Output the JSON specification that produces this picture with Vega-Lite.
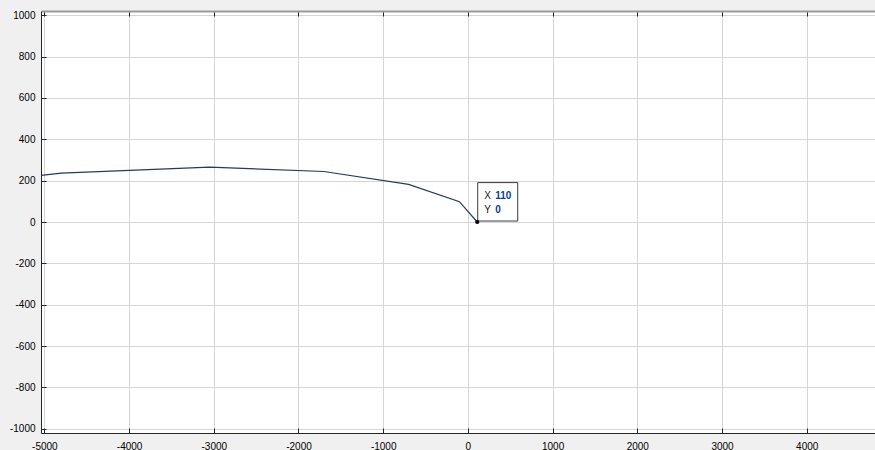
{
  "$schema": "https://vega.github.io/schema/vega-lite/v6.json",
  "width": 835,
  "height": 422,
  "autosize": {"type": "none"},
  "padding": {"left": 41, "top": 11, "right": 0, "bottom": 17},
  "background": "#f0f0f0",
  "config": {
    "view": {"fill": "white", "stroke": null},
    "axis": {
      "labelFont": "Liberation Sans",
      "labelFontSize": 10,
      "labelColor": "#000000",
      "labelFlush": false,
      "labelOverlap": false,
      "gridColor": "#d6d6d6",
      "gridWidth": 1,
      "domainColor": "#262626",
      "domainWidth": 1,
      "tickColor": "#262626",
      "tickSize": -5,
      "title": null
    }
  },
  "datasets": {
    "profile": [
      {"x": -5040, "y": 225},
      {"x": -4800, "y": 236},
      {"x": -3050, "y": 265},
      {"x": -1700, "y": 244},
      {"x": -700, "y": 182},
      {"x": -100, "y": 98},
      {"x": 110, "y": 0}
    ],
    "tip": [{"x": 110, "y": 0}]
  },
  "resolve": {"axis": {"x": "independent", "y": "independent"}},
  "layer": [
    {
      "data": {"name": "profile"},
      "mark": {"type": "line", "color": "#1f3d5e", "strokeWidth": 1.2, "clip": true},
      "encoding": {
        "x": {
          "field": "x", "type": "quantitative",
          "scale": {"domain": [-5040, 4818], "nice": false, "zero": false},
          "axis": {
            "orient": "bottom",
            "values": [-5000, -4000, -3000, -2000, -1000, 0, 1000, 2000, 3000, 4000],
            "labelExpr": "'' + datum.value",
            "labelPadding": 13
          }
        },
        "y": {
          "field": "y", "type": "quantitative",
          "scale": {"domain": [-1020, 1020], "nice": false, "zero": false},
          "axis": {
            "orient": "left",
            "values": [-1000, -800, -600, -400, -200, 0, 200, 400, 600, 800, 1000],
            "labelExpr": "'' + datum.value",
            "labelPadding": 11
          }
        }
      }
    },
    {
      "data": {"name": "tip"},
      "mark": {
        "type": "point",
        "shape": "M-1,-0.96L1,-0.96L1,0.96L-1,0.96Z",
        "size": 1600,
        "filled": true,
        "fill": "white",
        "stroke": "#3a3a3a",
        "strokeWidth": 1,
        "opacity": 1,
        "xOffset": 20.5,
        "yOffset": -20.2
      },
      "encoding": {
        "x": {
          "field": "x", "type": "quantitative",
          "axis": {
            "orient": "top",
            "values": [-5000, -4000, -3000, -2000, -1000, 0, 1000, 2000, 3000, 4000],
            "labels": false,
            "grid": false,
            "domainColor": "#9a9a9a",
            "domainWidth": 2
          }
        },
        "y": {"field": "y", "type": "quantitative", "axis": null}
      }
    },
    {
      "data": {"name": "tip"},
      "mark": {"type": "point", "filled": true, "color": "#000000", "size": 18, "opacity": 1},
      "encoding": {
        "x": {"field": "x", "type": "quantitative", "axis": null},
        "y": {"field": "y", "type": "quantitative", "axis": null}
      }
    },
    {
      "data": {"name": "tip"},
      "mark": {"type": "text", "align": "left", "baseline": "middle", "dx": 7, "dy": -26, "font": "Liberation Sans", "fontSize": 10, "color": "#1a1a1a", "text": "X"},
      "encoding": {
        "x": {"field": "x", "type": "quantitative", "axis": null},
        "y": {"field": "y", "type": "quantitative", "axis": null}
      }
    },
    {
      "data": {"name": "tip"},
      "mark": {"type": "text", "align": "left", "baseline": "middle", "dx": 7, "dy": -12, "font": "Liberation Sans", "fontSize": 10, "color": "#1a1a1a", "text": "Y"},
      "encoding": {
        "x": {"field": "x", "type": "quantitative", "axis": null},
        "y": {"field": "y", "type": "quantitative", "axis": null}
      }
    },
    {
      "data": {"name": "tip"},
      "mark": {"type": "text", "align": "left", "baseline": "middle", "dx": 18, "dy": -26, "font": "Liberation Sans", "fontSize": 10, "fontWeight": "bold", "color": "#0b3d91"},
      "encoding": {
        "x": {"field": "x", "type": "quantitative", "axis": null},
        "y": {"field": "y", "type": "quantitative", "axis": null},
        "text": {"field": "x", "type": "quantitative", "format": "d"}
      }
    },
    {
      "data": {"name": "tip"},
      "mark": {"type": "text", "align": "left", "baseline": "middle", "dx": 18, "dy": -12, "font": "Liberation Sans", "fontSize": 10, "fontWeight": "bold", "color": "#0b3d91"},
      "encoding": {
        "x": {"field": "x", "type": "quantitative", "axis": null},
        "y": {"field": "y", "type": "quantitative", "axis": null},
        "text": {"field": "y", "type": "quantitative", "format": "d"}
      }
    }
  ]
}
